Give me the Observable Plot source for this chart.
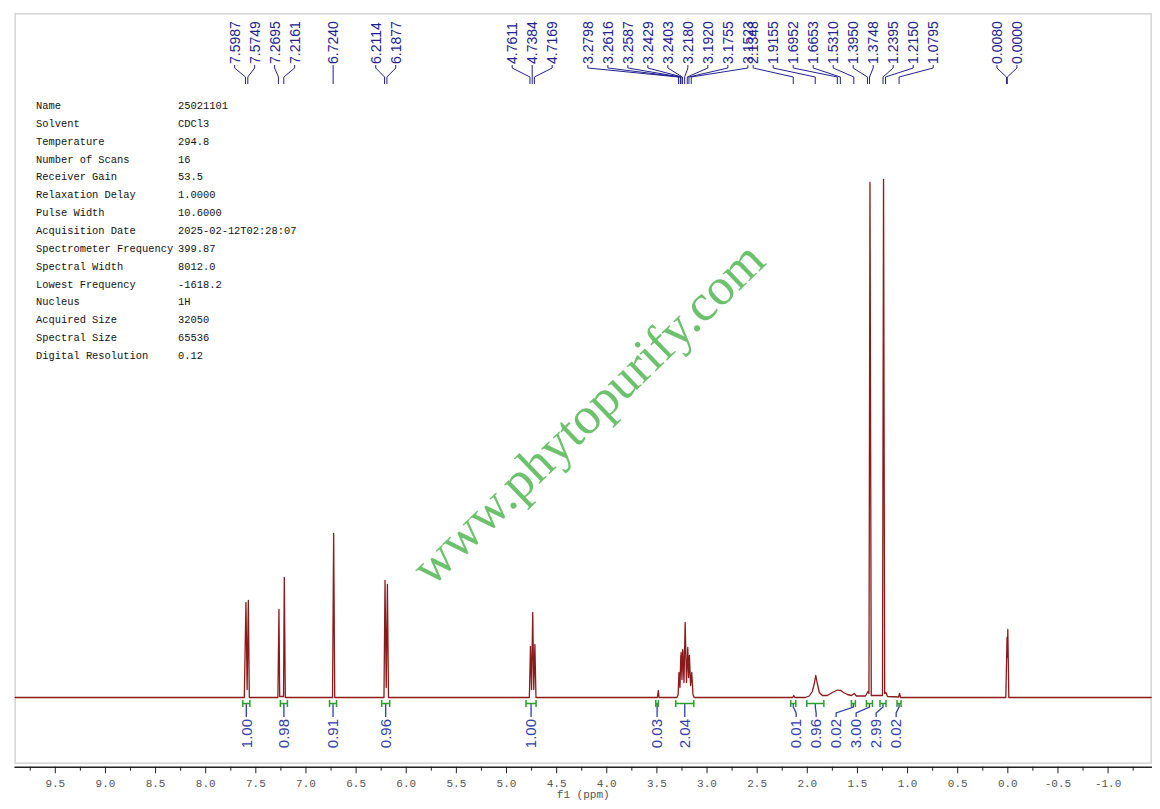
<!DOCTYPE html>
<html><head><meta charset="utf-8">
<script src="https://cdn.jsdelivr.net/npm/d3@7"></script>
<script src="https://cdn.jsdelivr.net/npm/@observablehq/plot@0.6"></script>
<style>
html,body{margin:0;padding:0;background:#fff;}
#wrap{position:relative;width:1160px;height:809px;}
#params{position:absolute;left:36px;top:98px;font-family:"Liberation Mono",monospace;font-size:10.4px;color:#111;line-height:17.86px;}
#params div{white-space:pre;}
#params span.k{display:inline-block;width:142px;}
</style></head><body><div id="wrap"><div id="params"></div></div>
<script>
// ---------- data ----------
const paramNames = ["Name","Solvent","Temperature","Number of Scans","Receiver Gain","Relaxation Delay","Pulse Width","Acquisition Date","Spectrometer Frequency","Spectral Width","Lowest Frequency","Nucleus","Acquired Size","Spectral Size","Digital Resolution"];
const paramValues = ["25021101","CDCl3","294.8","16","53.5","1.0000","10.6000","2025-02-12T02:28:07","399.87","8012.0","-1618.2","1H","32050","65536","0.12"];

// spectrum trace (ppm, intensity)
const specPpm = [9.9,7.615,7.5987,7.5868,7.5749,7.565,7.28,7.2695,7.262,7.224,7.2161,7.206,6.735,6.724,6.713,6.222,6.2114,6.1995,6.1877,6.177,
  4.772,4.7611,4.750,4.7384,4.728,4.7169,4.706,3.495,3.486,3.478,
  3.300,3.288,3.2798,3.270,3.2616,3.2600,3.2587,3.250,3.2429,3.2416,3.2403,3.230,3.2180,3.205,3.1920,3.184,3.1755,3.164,3.1523,3.140,3.128,
  2.145,2.1348,2.125,2.02,1.98,1.95,1.93,1.9155,1.90,1.88,1.85,1.80,1.75,1.72,1.6952,1.68,1.6653,1.64,1.60,1.56,1.531,1.51,1.42,1.395,1.385,1.3748,1.362,
  1.25,1.2395,1.228,1.215,1.20,1.09,1.0795,1.07,0.02,0.008,0.004,0.0,-0.010,-1.43];
const specInt = [0,0,95,8,97,0,0,88,1,1,120,0,0,164,0,0,117,10,113,0,
  0,51,8,85,8,53,0,0,7,0,
  0,3,25,10,42,30,45,18,48,38,47,15,75,15,50,20,42,12,25,3,0,
  0,2,0,0,1.5,6,14,22,14,5,2,2,5,6.5,7.5,7,7,5,3,2,4,1.5,1.5,6,4,515,2,
  2,518,4,5,1,0.5,4,0,0,60,40,68,0,0];

// peak picking labels
const peakPpm = [7.5987,7.5749,7.2695,7.2161,6.7240,6.2114,6.1877,4.7611,4.7384,4.7169,
  3.2798,3.2616,3.2587,3.2429,3.2403,3.2180,3.1920,3.1755,3.1523,
  2.1348,1.9155,1.6952,1.6653,1.5310,1.3950,1.3748,1.2395,1.2150,1.0795,0.0080,0.0000];
const peakGroup = [0,0,0,0,1,2,2,3,3,3, 4,4,4,4,4,4,4,4,4, 5,5,5,5,5,5,5,5,5,5, 6,6];

// integrals
const integralValues = ["1.00","0.98","0.91","0.96","1.00","0.03","2.04","0.01","0.96","0.02","3.00","2.99","0.02"];
const integralFrom = [7.625,7.250,6.760,6.240,4.800,3.506,3.307,2.160,2.000,1.555,1.405,1.270,1.100];
const integralTo   = [7.555,7.180,6.690,6.160,4.700,3.480,3.127,2.110,1.830,1.515,1.345,1.210,1.060];
const integralGroup = [0,1,2,3,4,5,6,7,7,7,7,7,7];

const majorTicks = [9.5,9.0,8.5,8.0,7.5,7.0,6.5,6.0,5.5,5.0,4.5,4.0,3.5,3.0,2.5,2.0,1.5,1.0,0.5,0.0,-0.5,-1.0];
const minorTicks = [9.75,9.25,8.75,8.25,7.75,7.25,6.75,6.25,5.75,5.25,4.75,4.25,3.75,3.25,2.75,2.25,1.75,1.25,0.75,0.25,-0.25,-0.75,-1.25];

// ---------- layout ----------
const W = 1160, H = 809;
const M = {left: 14.7, right: 9.3, top: 13.3, bottom: 46.3};
const xDomain = [9.9, -1.43];
const yDomain = [-65.7, 683.7];
const xs = d3.scaleLinear(xDomain, [M.left, W - M.right]);

function spread(px, groups, shifts, gap) {
  const out = new Array(px.length);
  for (const g of new Set(groups)) {
    const idx = groups.map((v, i) => v === g ? i : -1).filter(i => i >= 0);
    const p = idx.map(i => px[i]);
    const c = (d3.min(p) + d3.max(p)) / 2 + (shifts[g] || 0);
    idx.forEach((i, k) => out[i] = c + (k - (idx.length - 1) / 2) * gap);
  }
  return out;
}
const peakLabelPpm = spread(peakPpm.map(xs), peakGroup, {4: -17, 5: -3}, 20).map(xs.invert);
const intCenter = integralFrom.map((f, i) => (f + integralTo[i]) / 2);
const intLabelPpm = spread(intCenter.map(xs), integralGroup, {}, 20).map(xs.invert);

const spectrum = specPpm.map((p, i) => ({ppm: p, I: specInt[i]}));
const peakLabels = peakPpm.map((p, i) => ({lx: peakLabelPpm[i], text: p.toFixed(4)}));
const intLabels = integralValues.map((v, i) => ({lx: intLabelPpm[i], text: v}));

const BLUE = "#22228e", IBLUE = "#3140a8", GREEN = "#2aa02a", RED = "#8b1a1a";

const annotations = (index, scales, values, dims) => {
  const x = scales.x;
  const g = d3.create("svg:g").attr("fill", "none");
  const top = dims.marginTop, bottom = dims.height - dims.marginBottom;
  peakPpm.forEach((p, i) => {
    const lx = x(peakLabelPpm[i]), px = x(p);
    g.append("path")
      .attr("d", `M${lx},${top + 51.7}V${top + 54.7}L${px},${top + 63.7}V${top + 70.7}`)
      .attr("stroke", BLUE).attr("stroke-width", 1);
  });
  integralFrom.forEach((f, i) => {
    const x1 = x(f), x2 = x(integralTo[i]), bx = x(intCenter[i]), lx = x(intLabelPpm[i]);
    const yb = bottom - 59.2;
    g.append("path")
      .attr("d", `M${bx},${yb}V${yb + 3.5}L${lx},${yb + 9.5}V${yb + 13.5}`)
      .attr("stroke", IBLUE).attr("stroke-width", 1.3);
    g.append("path")
      .attr("d", `M${x1},${yb - 3.5}V${yb + 3.5}M${x1},${yb}H${x2}M${x2},${yb - 3.5}V${yb + 3.5}`)
      .attr("stroke", GREEN).attr("stroke-width", 1.5);
  });
  return g.node();
};

const chart = Plot.plot({
  width: W, height: H,
  marginLeft: M.left, marginRight: M.right, marginTop: M.top, marginBottom: M.bottom,
  x: {domain: xDomain},
  y: {domain: yDomain, axis: null},
  style: {background: "white", overflow: "visible"},
  marks: [
    Plot.frame({stroke: "#d4d4d4", strokeWidth: 1.5}),
    Plot.text(["www.phytopurify.com"], {text: d => d, frameAnchor: "middle", dx: 5, dy: 25, rotate: -44,
      fontSize: 52, fontFamily: "Liberation Serif", fill: "#5cbb5c", fillOpacity: 0.9}),
    Plot.line(spectrum, {x: "ppm", y: "I", stroke: RED, strokeWidth: 1.3, strokeLinejoin: "round"}),
    annotations,
    Plot.text(peakLabels, {x: "lx", text: "text", frameAnchor: "top", dy: 50.2, rotate: -90, textAnchor: "start",
      lineAnchor: "middle", fontSize: 14, fontFamily: "Liberation Sans", fill: BLUE}),
    Plot.text(intLabels, {x: "lx", text: "text", frameAnchor: "bottom", dy: -44.2, rotate: -90, textAnchor: "end",
      lineAnchor: "middle", fontSize: 15, fontFamily: "Liberation Sans", fill: IBLUE}),
    Plot.frame({anchor: "bottom", dy: 4, stroke: "#222", strokeWidth: 1.5}),
    Plot.axisX(majorTicks, {tickSize: 6.5, dy: 4, tickPadding: 5, label: null, stroke: "#222", fill: "#555",
      tickFormat: d => d.toFixed(1), fontSize: 11, fontFamily: "Liberation Mono"}),
    Plot.axisX(minorTicks, {tickSize: 4, dy: 4, label: null, stroke: "#222", tickFormat: () => ""}),
    Plot.text(["f1 (ppm)"], {text: d => d, frameAnchor: "bottom", dy: 35, fontSize: 11,
      fontFamily: "Liberation Mono", fill: "#555"})
  ]
});
document.getElementById("wrap").prepend(chart);
chart.style.position = "absolute"; chart.style.left = "0"; chart.style.top = "0";

const params = document.getElementById("params");
paramNames.forEach((n, i) => {
  const row = document.createElement("div");
  const k = document.createElement("span"); k.className = "k"; k.textContent = n;
  const v = document.createElement("span"); v.textContent = paramValues[i];
  row.append(k, v); params.append(row);
});
</script>
</body></html>
